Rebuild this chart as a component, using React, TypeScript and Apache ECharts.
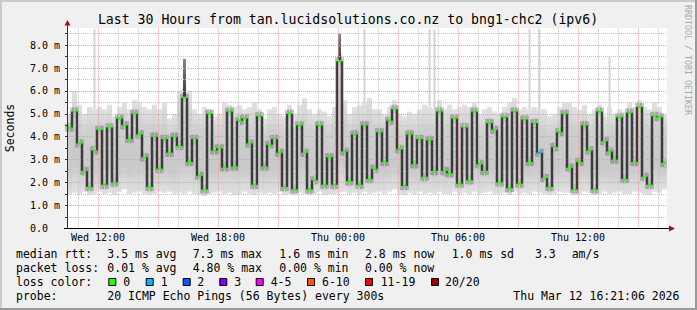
import React, { useEffect, useRef } from 'react';
import * as echarts from 'echarts';

// one column = 15 minutes, 120 columns = 30 hours (start Wed 10:27)
const STEP = 15;
const SPAN = 1800;

const median = [
  4.4, 5.1, 3.7, 2.5, 1.8, 3.4, 4.3, 1.9, 4.4, 2.0, 4.8, 4.5, 3.9, 5.0, 4.1, 3.1, 1.8, 4.0, 2.6, 3.9,
  3.3, 4.0, 3.6, 5.7, 2.9, 3.9, 2.3, 1.7, 5.0, 3.4, 3.5, 2.65, 5.1, 2.7, 4.7, 4.8, 3.7, 1.9, 4.9, 2.7,
  3.65, 3.9, 3.3, 1.8, 5.0, 1.7, 4.5, 3.3, 1.7, 2.1, 4.5, 1.9, 3.1, 1.9, 7.3, 3.35, 2.05, 4.1, 1.9, 4.5,
  2.15, 2.6, 4.2, 2.9, 4.7, 5.2, 3.45, 1.85, 4.1, 2.8, 3.9, 2.25, 3.85, 2.5, 5.1, 2.5, 2.4, 4.8, 1.95, 4.4,
  2.1, 5.1, 2.8, 2.5, 4.6, 4.3, 2.0, 4.85, 1.75, 5.1, 1.95, 4.75, 2.9, 4.6, 3.3, 2.2, 1.8, 3.55, 4.2, 5.0,
  2.65, 1.7, 2.9, 4.5, 3.4, 1.7, 5.1, 3.8, 3.35, 3.0, 4.85, 2.15, 5.05, 2.9, 5.3, 2.25, 1.9, 4.9, 4.85, 2.85,
];

const smokeHi = [
  5.0, 6.0, 5.4, 5.0, 5.3, 5.2, 5.3, 5.2, 5.4, 4.9, 5.3, 5.5, 5.2, 5.6, 5.5, 5.3, 5.2, 5.4, 5.2, 5.5,
  4.8, 5.0, 6.0, 6.1, 6.0, 5.2, 5.0, 5.3, 5.2, 4.9, 5.0, 5.5, 5.4, 5.3, 5.4, 5.2, 5.3, 5.5, 5.2, 4.8,
  5.2, 5.3, 5.0, 4.9, 5.4, 5.0, 5.4, 5.7, 5.2, 5.0, 5.2, 5.1, 4.9, 5.3, 7.6, 5.6, 5.0, 5.3, 5.4, 5.5,
  5.7, 5.2, 5.2, 5.0, 5.3, 5.6, 5.0, 4.9, 5.1, 5.0, 5.2, 5.4, 5.3, 5.2, 5.6, 5.2, 5.4, 5.2, 5.3, 5.4,
  5.3, 5.5, 5.0, 5.2, 5.3, 5.1, 5.0, 5.3, 5.5, 5.7, 5.2, 5.3, 5.2, 5.3, 5.2, 5.2, 4.9, 5.0, 5.3, 5.5,
  5.5, 5.3, 5.2, 5.4, 5.0, 5.2, 5.4, 4.9, 5.3, 5.0, 5.2, 5.1, 5.5, 5.3, 5.6, 5.3, 5.2, 5.5, 5.3, 5.0,
];

const smokeLo = [
  1.5, 1.55, 1.5, 1.6, 1.45, 1.5, 1.6, 1.5, 1.55, 1.45, 1.6, 1.7, 1.5, 1.55, 1.6, 1.5, 1.45, 1.5, 1.6, 1.55,
  1.6, 1.5, 1.55, 1.5, 1.6, 1.5, 1.45, 1.4, 1.5, 1.55, 1.6, 1.5, 1.55, 1.45, 1.5, 1.6, 1.5, 1.45, 1.55, 1.5,
  1.55, 1.5, 1.6, 1.45, 1.5, 1.45, 1.55, 1.5, 1.45, 1.5, 1.6, 1.45, 1.5, 1.5, 1.55, 1.6, 1.5, 1.55, 1.5, 1.6,
  1.5, 1.55, 1.6, 1.5, 1.6, 1.7, 1.5, 1.45, 1.55, 1.5, 1.6, 1.5, 1.55, 1.5, 1.6, 1.5, 1.5, 1.6, 1.5, 1.55,
  1.5, 1.6, 1.5, 1.55, 1.6, 1.5, 1.5, 1.55, 1.45, 1.6, 1.5, 1.55, 1.5, 1.6, 1.55, 1.5, 1.45, 1.5, 1.6, 1.55,
  1.55, 1.45, 1.5, 1.6, 1.55, 1.45, 1.5, 1.6, 1.5, 1.55, 1.6, 1.5, 1.5, 1.6, 1.55, 1.5, 1.45, 1.6, 1.55, 1.7,
];

// [column, value]
const outlierMax = [[5, 8.7], [59, 8.7], [72, 8.7], [73, 8.7], [92, 8.7], [94, 8.7], [108, 7.5]];
const darkSpikeTop = [[23, 7.4], [54, 8.5]];
const lossEvents = [[94, 1]];

const xTickMinutes = [93, 453, 813, 1173, 1533];
const xTickLabels = ['Wed 12:00', 'Wed 18:00', 'Thu 00:00', 'Thu 06:00', 'Thu 12:00'];
const yTickLabels = ['0.0', '1.0 m', '2.0 m', '3.0 m', '4.0 m', '5.0 m', '6.0 m', '7.0 m', '8.0 m'];

const titleText = 'Last 30 Hours from tan.lucidsolutions.co.nz to bng1-chc2 (ipv6)';
const rttStats = ['3.5 ms avg', '7.3 ms max', '1.6 ms min', '2.8 ms now', '1.0 ms sd', '3.3', 'am/s'];
const lossStats = ['0.01 % avg', '4.80 % max', '0.00 % min', '0.00 % now'];
const lossLabels = ['0', '1', '2', '3', '4-5', '6-10', '11-19', '20/20'];
const lossColors = ['#26ff00', '#00b8ff', '#0059ff', '#7e00ff', '#ff00ff', '#ff5500', '#ff0000', '#a10000'];
const probeText = '20 ICMP Echo Pings (56 Bytes) every 300s';
const dateText = 'Thu Mar 12 16:21:06 2026';

const MONO = '"DejaVu Sans Mono", monospace';

export default function App() {
  const ref = useRef<HTMLDivElement>(null);

  useEffect(() => {
    if (!ref.current) return;
    const chart = echarts.init(ref.current, null, { renderer: 'svg' });

    const lossAt: Record<number, number> = {};
    lossEvents.forEach(([i, l]) => (lossAt[i] = l));
    const outAt: Record<number, number> = {};
    outlierMax.forEach(([i, v]) => (outAt[i] = v));
    const darkAt: Record<number, number> = {};
    darkSpikeTop.forEach(([i, v]) => (darkAt[i] = v));

    const rows = median.map((m, i) => [
      i * STEP,
      smokeLo[i],
      smokeHi[i],
      m,
      i > 0 ? median[i - 1] : m,
      lossAt[i] ?? 0,
      outAt[i] ?? -1,
      darkAt[i] ?? -1,
    ]);

    const smokeFill = new echarts.graphic.LinearGradient(0, 0, 0, 1, [
      { offset: 0, color: '#e2e2e2' },
      { offset: 0.25, color: '#cfcfcf' },
      { offset: 0.7, color: '#c9c9c9' },
      { offset: 1, color: '#e0e0e0' },
    ]);

    const lightItem = (params: any, api: any) => {
      const x = api.value(0);
      const a = api.coord([x, api.value(2)]);
      const b = api.coord([x + STEP, api.value(1)]);
      const children: any[] = [
        { type: 'rect', shape: { x: a[0], y: a[1], width: b[0] - a[0], height: b[1] - a[1] }, style: { fill: smokeFill } },
      ];
      const o = api.value(6);
      if (o > 0) {
        const c = api.coord([x + STEP / 2, o]);
        children.push({ type: 'rect', shape: { x: c[0] - 1, y: c[1], width: 2, height: a[1] - c[1] }, style: { fill: '#d4d4d4' } });
      }
      return { type: 'group', children };
    };

    const haloItem = (params: any, api: any) => {
      const x = api.value(0);
      const m = api.value(3);
      const p = api.value(4);
      const top = api.coord([x, Math.max(m, p)]);
      const bot = api.coord([x, Math.min(m, p)]);
      const c = api.coord([x + STEP, m]);
      const w = c[0] - top[0];
      const children: any[] = [
        { type: 'rect', shape: { x: top[0] - 2, y: top[1] - 4, width: 4, height: bot[1] - top[1] + 8 }, style: { fill: 'rgba(70,70,70,0.3)' } },
        { type: 'rect', shape: { x: top[0], y: c[1] - 5, width: w, height: 10 }, style: { fill: 'rgba(110,110,110,0.14)' } },
      ];
      const d = api.value(7);
      if (d > 0) {
        const dt = api.coord([x + STEP / 2, d]);
        children.push({
          type: 'rect',
          shape: { x: dt[0] - 1.5, y: dt[1], width: 3, height: c[1] - dt[1] },
          style: { fill: new echarts.graphic.LinearGradient(0, 0, 0, 1, [{ offset: 0, color: '#8a8a8a' }, { offset: 1, color: '#333' }]) },
        });
      }
      return { type: 'group', children };
    };

    const lineItem = (params: any, api: any) => {
      const x = api.value(0);
      const a = api.coord([x, api.value(4)]);
      const b = api.coord([x, api.value(3)]);
      return { type: 'line', shape: { x1: a[0], y1: a[1], x2: b[0], y2: b[1] }, style: { stroke: '#181818', lineWidth: 1.5 } };
    };

    const medItem = (params: any, api: any) => {
      const x = api.value(0);
      const c = api.coord([x + STEP / 2, api.value(3)]);
      return { type: 'rect', shape: { x: c[0] - 1.75, y: c[1] - 1.25, width: 3.5, height: 2.5 }, style: { fill: lossColors[api.value(5)] } };
    };

    const gridLines: any[] = [];
    for (let k = 0; k < 30; k++) {
      const mm = 33 + 60 * k;
      const major = (mm - 93) % 180 === 0;
      gridLines.push({ xAxis: mm, lineStyle: { color: major ? '#f29a9a' : '#c4c4c4', type: [1, 1], width: 1 } });
    }
    for (let k = 1; k <= 17; k++) {
      const v = k * 0.5;
      const major = k % 2 === 0;
      gridLines.push({ yAxis: v, lineStyle: { color: major ? '#f29a9a' : '#c4c4c4', type: [1, 1], width: 1 } });
    }

    const custom = (renderItem: any, z: number) => ({
      type: 'custom',
      data: rows,
      encode: { x: 0, y: [1, 2] },
      renderItem,
      z,
      silent: true,
      animation: false,
    });

    const textEl = (text: string, x: number, y: number, size = 11.5, extra: any = {}) => ({
      type: 'text',
      x,
      y,
      z: 100,
      ...extra,
      style: { text, fontFamily: MONO, fontSize: size, fill: '#000', verticalAlign: 'middle', align: 'left', ...(extra.style || {}) },
    });

    const rttX = [107.3, 192.7, 279.3, 365, 451.7, 535, 571.7];
    const lossX = [107.3, 192.7, 279.3, 365];
    const boxX = [108.3, 145.7, 182.7, 219.3, 255.7, 307, 365, 431];
    const lblX = [123.3, 160.7, 197.3, 234.3, 270.7, 322, 380.7, 445];
    const rows4 = [253.5, 267.5, 281.5, 295.5];

    const graphics: any[] = [
      { type: 'rect', shape: { x: 0, y: 0, width: 697, height: 2 }, style: { fill: '#cbcbcb' }, z: 100 },
      { type: 'rect', shape: { x: 0, y: 0, width: 2, height: 310 }, style: { fill: '#cbcbcb' }, z: 100 },
      { type: 'rect', shape: { x: 0, y: 308, width: 697, height: 2 }, style: { fill: '#999999' }, z: 100 },
      { type: 'rect', shape: { x: 695, y: 0, width: 2, height: 310 }, style: { fill: '#999999' }, z: 100 },
      { type: 'line', shape: { x1: 67.5, y1: 228.5, x2: 67.5, y2: 24 }, style: { stroke: '#333', lineWidth: 1 }, z: 90 },
      { type: 'line', shape: { x1: 64, y1: 228.5, x2: 670, y2: 228.5 }, style: { stroke: '#000', lineWidth: 1 }, z: 90 },
      { type: 'polygon', shape: { points: [[64.5, 25.5], [70.5, 25.5], [67.5, 20]] }, style: { fill: '#9b1515' }, z: 91 },
      { type: 'polygon', shape: { points: [[669, 225.5], [669, 231.5], [675, 228.5]] }, style: { fill: '#9b1515' }, z: 91 },
      textEl(titleText, 348, 19.5, 13.2, { style: { align: 'center' } }),
      textEl('Seconds', 10, 128, 11.5, { rotation: Math.PI / 2, style: { align: 'center' } }),
      textEl('RRDTOOL / TOBI OETIKER', 688, 60, 8.3, { rotation: -Math.PI / 2, style: { align: 'center', fill: '#a9a9a9' } }),
      textEl('median rtt:', 16, rows4[0]),
      textEl('packet loss:', 16, rows4[1]),
      textEl('loss color:', 16, rows4[2]),
      textEl('probe:', 16, rows4[3]),
      textEl(probeText, 107.3, rows4[3]),
      textEl(dateText, 513.3, rows4[3]),
    ];
    rttStats.forEach((t, i) => graphics.push(textEl(t, rttX[i], rows4[0])));
    lossStats.forEach((t, i) => graphics.push(textEl(t, lossX[i], rows4[1])));
    lossLabels.forEach((t, i) => {
      graphics.push({
        type: 'rect',
        shape: { x: boxX[i] + 0.5, y: 278.5, width: 7, height: 7 },
        style: { fill: lossColors[i], stroke: '#000', lineWidth: 1 },
        z: 100,
      });
      graphics.push(textEl(t, lblX[i], rows4[2]));
    });

    chart.setOption({
      animation: false,
      backgroundColor: '#f0f0f0',
      grid: { left: 67, top: 28, width: 600, height: 200.3, show: true, backgroundColor: '#ffffff', borderWidth: 0 },
      xAxis: {
        type: 'value',
        min: 0,
        max: SPAN,
        axisLine: { show: false },
        splitLine: { show: false },
        axisTick: { show: false },
        axisLabel: {
          customValues: xTickMinutes,
          formatter: (v: number) => xTickLabels[xTickMinutes.indexOf(Math.round(v))] ?? '',
          fontFamily: MONO,
          fontSize: 10,
          color: '#000',
          margin: 4,
        },
      },
      yAxis: {
        type: 'value',
        min: 0,
        max: 8.75,
        interval: 0.5,
        axisLine: { show: false },
        splitLine: { show: false },
        axisTick: { show: true, length: 2, lineStyle: { color: '#333' } },
        axisLabel: {
          formatter: (v: number) => (Math.abs(v - Math.round(v)) < 1e-6 ? yTickLabels[Math.round(v)] ?? '' : ''),
          fontFamily: MONO,
          fontSize: 10,
          color: '#000',
          align: 'left',
          margin: 37,
          showMaxLabel: false,
        },
      },
      series: [
        custom(lightItem, 2),
        {
          type: 'line',
          data: [],
          z: 3,
          silent: true,
          markLine: { silent: true, symbol: ['none', 'none'], label: { show: false }, animation: false, data: gridLines },
        },
        custom(haloItem, 4),
        custom(lineItem, 5),
        custom(medItem, 6),
      ],
      graphic: graphics,
    });

    return () => chart.dispose();
  }, []);

  return <div ref={ref} style={{ position: 'absolute', left: 0, top: 0, width: 697, height: 310 }} />;
}
